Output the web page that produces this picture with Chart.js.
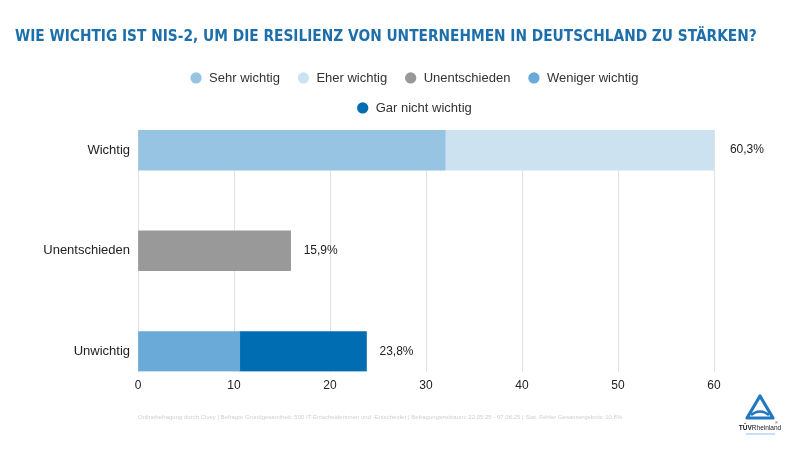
<!DOCTYPE html>
<html>
<head>
<meta charset="utf-8">
<script src="https://cdn.jsdelivr.net/npm/chart.js@4.4.1/dist/chart.umd.min.js"></script>
<style>
  html, body { margin: 0; padding: 0; background: #fff; }
  #wrap { position: relative; width: 800px; height: 450px; }
  #footnote {
    position: absolute; left: 138px; top: 414px;
    font: 6px "Liberation Sans", Arial, sans-serif; color: #cfcfcf; white-space: nowrap;
  }
  #logo { position: absolute; left: 738px; top: 392px; }
</style>
</head>
<body>
<div id="wrap">
  <canvas id="chart" width="800" height="450"></canvas>
  <div id="footnote">Onlinebefragung durch Civey | Befragte Grundgesamtheit: 500 IT-Entscheiderinnen und -Entscheider | Befragungszeitraum: 22.05.25 - 07.06.25 | Stat. Fehler Gesamtergebnis: 10,8%</div>
  <svg id="logo" width="50" height="50" viewBox="0 0 50 50">
    <path d="M22 4 L35 26 L9 26 Z" fill="none" stroke="#1f78c1" stroke-width="3.2" stroke-linejoin="round"/>
    <path d="M13 23 Q22 16 31 23" fill="none" stroke="#1f78c1" stroke-width="2.6"/>
    <text x="22" y="38" text-anchor="middle" font-family="Liberation Sans Narrow, Arial" font-size="6.5" fill="#1a1a1a"><tspan font-weight="bold">TÜV</tspan>Rheinland</text>
    <text x="37" y="32" font-family="Arial" font-size="4" fill="#1a1a1a">®</text>
    <line x1="8" y1="42" x2="37" y2="42" stroke="#8fc1e6" stroke-width="1"/>
  </svg>
</div>
<script>
// categories and values (percent)
const categories = ['Wichtig', 'Unentschieden', 'Unwichtig'];
const sehrWichtig = [32.0, null, null];
const eherWichtig = [28.3, null, null];
const unentschieden = [null, 15.9, null];
const wenigerWichtig = [null, null, 10.6];
const garNichtWichtig = [null, null, 13.2];
const xTicks = [0, 10, 20, 30, 40, 50, 60];

const series = [
  { label: 'Sehr wichtig', data: sehrWichtig, color: '#98c4e3' },
  { label: 'Eher wichtig', data: eherWichtig, color: '#cde2f1' },
  { label: 'Unentschieden', data: unentschieden, color: '#999999' },
  { label: 'Weniger wichtig', data: wenigerWichtig, color: '#6aaad8' },
  { label: 'Gar nicht wichtig', data: garNichtWichtig, color: '#006db3' },
];

const FONT = '"Liberation Sans", Arial, sans-serif';

const toPoints = values => values
  .map((v, i) => ({ x: v, y: i }))
  .filter(p => p.x != null);

// total of each row, written right of the stacked bar
const totalLabels = {
  id: 'totalLabels',
  afterDatasetsDraw(chart) {
    const { ctx, scales } = chart;
    ctx.save();
    ctx.font = '12px ' + FONT;
    ctx.fillStyle = '#222';
    ctx.textBaseline = 'middle';
    categories.forEach((c, i) => {
      const total = series.reduce((s, ds) => s + (ds.data[i] || 0), 0);
      const x = scales.x.getPixelForValue(total) + 13;
      const y = scales.y.getPixelForValue(i);
      ctx.fillText(total.toFixed(1).replace('.', ',') + '%', x, y);
    });
    ctx.restore();
  },
};

// title may run over the right padding; legend block sits a bit up/left
const layoutNudge = {
  id: 'layoutNudge',
  afterLayout(chart) {
    if (chart.titleBlock) chart.titleBlock.right = chart.width;
    const lg = chart.legend;
    if (!lg) return;
    lg.left -= 12; lg.right -= 12;
    lg.top -= 5.5; lg.bottom -= 5.5;
  },
};

new Chart(document.getElementById('chart'), {
  type: 'bar',
  data: {
    datasets: series.map(s => ({
      label: s.label,
      data: toPoints(s.data),
      backgroundColor: s.color,
      borderWidth: 0,
      barThickness: 40,
    })),
  },
  options: {
    indexAxis: 'y',
    responsive: false,
    animation: false,
    events: [],
    layout: { padding: { left: 15, right: 86, top: 28, bottom: 50 } },
    plugins: {
      title: {
        display: true,
        text: 'WIE WICHTIG IST NIS-2, UM DIE RESILIENZ VON UNTERNEHMEN IN DEUTSCHLAND ZU STÄRKEN?',
        align: 'start',
        color: '#1d6fab',
        font: { family: '"Liberation Sans Narrow", "DejaVu Sans Condensed", Arial', weight: 'bold', size: 15.3 },
        padding: { top: 0, bottom: 13.6 },
      },
      legend: {
        position: 'top',
        fullSize: false,
        labels: {
          usePointStyle: true,
          pointStyle: 'circle',
          boxWidth: 13,
          boxHeight: 8,
          padding: 17,
          color: '#333',
          font: { family: FONT, size: 13, lineHeight: 0.85 },
        },
      },
      tooltip: { enabled: false },
    },
    scales: {
      x: {
        stacked: true,
        min: 0,
        max: 60,
        afterBuildTicks: scale => { scale.ticks = xTicks.map(v => ({ value: v })); },
        grid: { color: '#e2e2e2', drawTicks: false },
        border: { display: false },
        ticks: { padding: 7, color: '#222', font: { family: FONT, size: 12 } },
      },
      y: {
        type: 'linear',
        stacked: true,
        reverse: true,
        offset: false,
        min: -0.2,
        max: 2.2,
        afterBuildTicks: scale => { scale.ticks = categories.map((c, i) => ({ value: i })); },
        afterFit: scale => { scale.width = 123; },
        grid: { display: false, drawTicks: false },
        border: { display: false },
        ticks: {
          padding: 8,
          color: '#222',
          font: { family: FONT, size: 13 },
          callback: v => categories[v],
        },
      },
    },
  },
  plugins: [totalLabels, layoutNudge],
});
</script>
</body>
</html>
